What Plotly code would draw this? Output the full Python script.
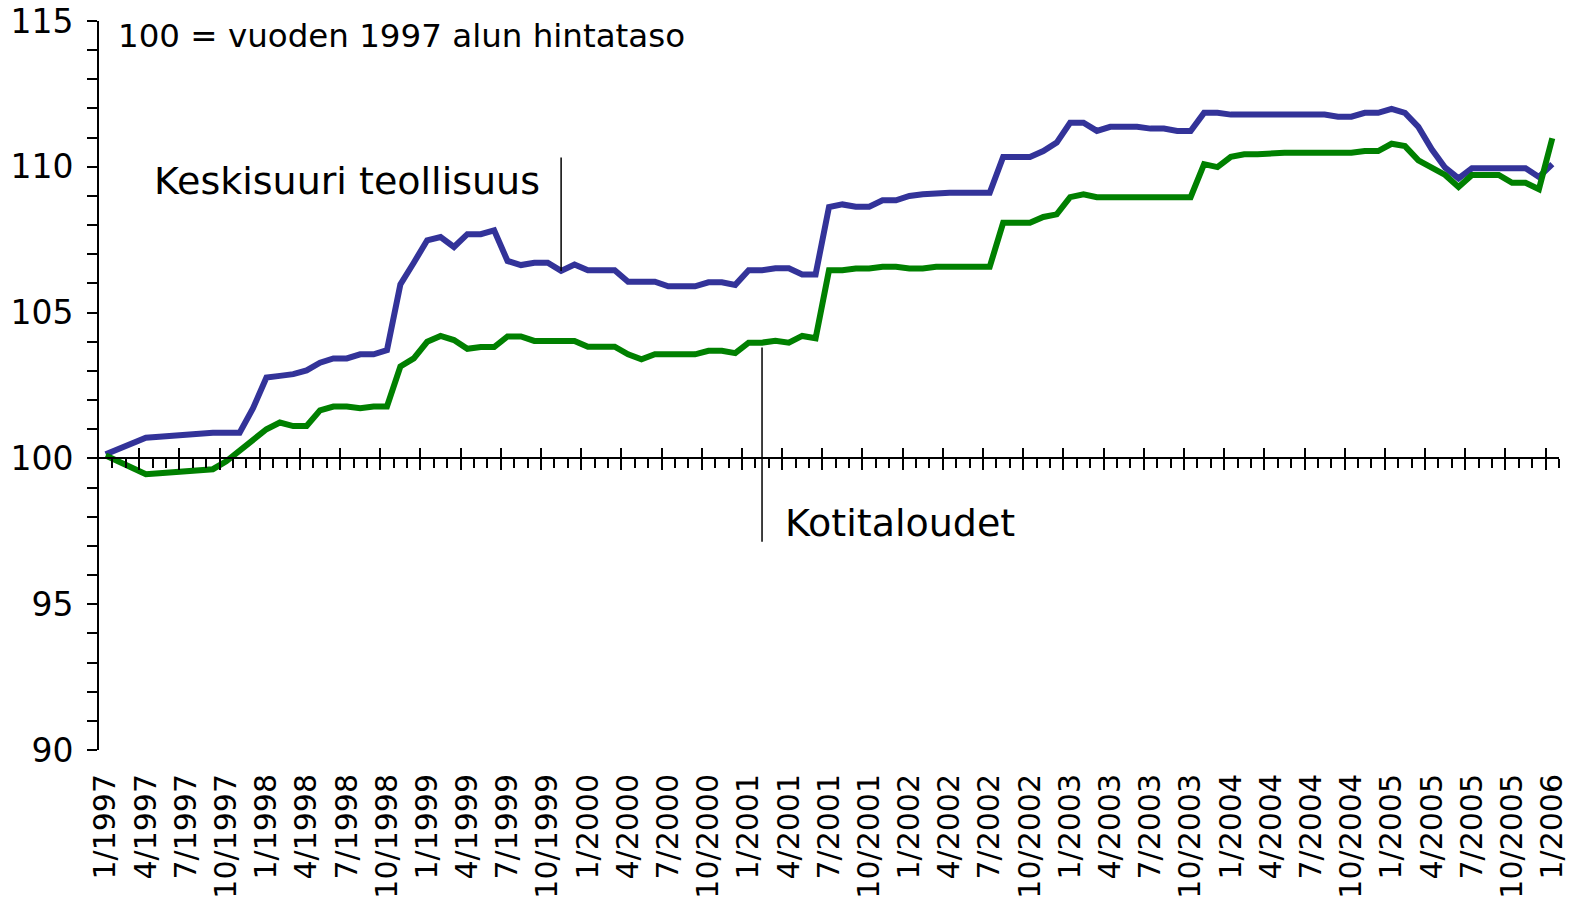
import plotly.graph_objects as go

# Monthly index values, 1/1997 ... 1/2006 (100 = beginning of 1997 price level)
teollisuus = [
    100.14, 100.33, 100.52, 100.71, 100.74, 100.78, 100.81, 100.84, 100.88, 100.88,
    100.88, 101.72, 102.77, 102.83, 102.89, 103.02, 103.28, 103.43, 103.43, 103.57,
    103.57, 103.71, 105.97, 106.71, 107.48, 107.59, 107.25, 107.69, 107.69, 107.82,
    106.77, 106.63, 106.71, 106.71, 106.43, 106.65, 106.45, 106.45, 106.45, 106.06,
    106.06, 106.06, 105.90, 105.90, 105.90, 106.04, 106.04, 105.95, 106.45, 106.45,
    106.52, 106.52, 106.31, 106.31, 108.62, 108.71, 108.63, 108.63, 108.85, 108.85,
    109.00, 109.06, 109.11, 109.11, 109.11, 109.11, 109.11, 110.34, 110.34, 110.34,
    110.54, 110.83, 111.51, 111.51, 111.23, 111.37, 111.37, 111.37, 111.31, 111.31,
    111.23, 111.23, 111.85, 111.85, 111.79, 111.79, 111.79, 111.79, 111.79, 111.79,
    111.79, 111.79, 111.72, 111.72, 111.85, 111.85, 111.99, 111.85, 111.37, 110.60,
    109.97, 109.60, 109.95, 109.95, 109.95, 109.95, 109.95, 109.65, 110.09,
]
kotitaloudet = [
    100.10, 99.88, 99.67, 99.46, 99.49, 99.53, 99.56, 99.60, 99.63, 99.90,
    100.26, 100.62, 101.00, 101.23, 101.11, 101.11, 101.65, 101.78, 101.78, 101.72,
    101.78, 101.78, 103.15, 103.43, 104.00, 104.20, 104.06, 103.76, 103.82, 103.82,
    104.18, 104.18, 104.03, 104.03, 104.03, 104.03, 103.83, 103.83, 103.83, 103.57,
    103.40, 103.57, 103.57, 103.57, 103.57, 103.69, 103.69, 103.61, 103.97, 103.97,
    104.03, 103.97, 104.20, 104.12, 106.45, 106.45, 106.51, 106.51, 106.57, 106.57,
    106.51, 106.51, 106.57, 106.57, 106.57, 106.57, 106.57, 108.08, 108.08, 108.08,
    108.28, 108.37, 108.96, 109.06, 108.96, 108.96, 108.96, 108.96, 108.96, 108.96,
    108.96, 108.96, 110.09, 109.99, 110.34, 110.43, 110.43, 110.48, 110.48, 110.48,
    110.48, 110.48, 110.48, 110.48, 110.54, 110.54, 110.79, 110.71, 110.22, 109.97,
    109.72, 109.31, 109.72, 109.72, 109.72, 109.45, 109.45, 109.23, 110.98,
]
tick_labels = [
    "1/1997", "4/1997", "7/1997", "10/1997",
    "1/1998", "4/1998", "7/1998", "10/1998",
    "1/1999", "4/1999", "7/1999", "10/1999",
    "1/2000", "4/2000", "7/2000", "10/2000",
    "1/2001", "4/2001", "7/2001", "10/2001",
    "1/2002", "4/2002", "7/2002", "10/2002",
    "1/2003", "4/2003", "7/2003", "10/2003",
    "1/2004", "4/2004", "7/2004", "10/2004",
    "1/2005", "4/2005", "7/2005", "10/2005",
    "1/2006",
]
y_ticks = [90, 95, 100, 105, 110, 115]

n = len(teollisuus)
x = list(range(n))
label_pos = list(range(0, n, 3))
boundaries = [i + 0.5 for i in range(-1, n)]
major_b = [b for k, b in enumerate(boundaries) if k % 3 == 0 and k > 0]
minor_b = [b for k, b in enumerate(boundaries) if k % 3 != 0]

FONT = "DejaVu Sans"
BLUE = "#333399"
GREEN = "#008000"
xr = [-0.5, n - 0.5]

fig = go.Figure()
fig.add_trace(go.Scatter(x=x, y=teollisuus, mode="lines", name="Keskisuuri teollisuus",
                         line=dict(color=BLUE, width=6), hoverinfo="skip"))
fig.add_trace(go.Scatter(x=x, y=kotitaloudet, mode="lines", name="Kotitaloudet",
                         line=dict(color=GREEN, width=6), hoverinfo="skip"))
# invisible carriers for the crossing axis at y=100
for ax in ["x2", "x3"]:
    fig.add_trace(go.Scatter(x=x, y=teollisuus, xaxis=ax, yaxis="y", mode="lines",
                             line=dict(width=0), opacity=0, hoverinfo="skip", showlegend=False))

ypos100 = (100 - 90) / (115 - 90)

fig.update_layout(
    width=1576, height=908,
    margin=dict(l=91, r=25, t=13, b=166),
    paper_bgcolor="white", plot_bgcolor="white",
    showlegend=False,
    font=dict(family=FONT, color="black"),
    xaxis=dict(
        range=xr, showline=False, showgrid=False, zeroline=False, automargin=False,
        tickmode="array", tickvals=label_pos, ticktext=tick_labels,
        tickangle=-90, ticks="", tickfont=dict(size=30, family=FONT),
        ticklabelstandoff=17, ticklabeloverflow="allow",
    ),
    xaxis2=dict(
        range=xr, overlaying="x", anchor="free", position=ypos100, automargin=False,
        showline=True, linecolor="black", linewidth=2,
        showgrid=False, zeroline=False, showticklabels=False,
        tickmode="array", tickvals=major_b, ticks="outside", ticklen=11,
        tickwidth=2, tickcolor="black",
        minor=dict(tickmode="array", tickvals=minor_b, ticks="outside",
                   ticklen=9, tickwidth=2, tickcolor="black", showgrid=False),
    ),
    xaxis3=dict(
        range=xr, overlaying="x", anchor="free", position=ypos100, automargin=False,
        showline=False, showgrid=False, zeroline=False, showticklabels=False,
        tickmode="array", tickvals=major_b, ticks="inside", ticklen=10,
        tickwidth=2, tickcolor="black",
    ),
    yaxis=dict(
        range=[90, 115], showline=True, linecolor="black", linewidth=2,
        showgrid=False, zeroline=False, automargin=False,
        tickmode="array", tickvals=y_ticks, ticks="outside", ticklen=10,
        tickwidth=2, tickcolor="black", tickfont=dict(size=33, family=FONT),
        ticklabelstandoff=7, ticklabeloverflow="allow",
        minor=dict(tickmode="linear", tick0=90, dtick=1, ticks="outside",
                   ticklen=10, tickwidth=2, tickcolor="black", showgrid=False),
    ),
)

# leader lines
fig.add_shape(type="line", xref="x", yref="y", x0=34, x1=34, y0=teollisuus[34], y1=110.32,
              line=dict(color="black", width=1.5))
fig.add_shape(type="line", xref="x", yref="y", x0=49, x1=49, y0=103.8, y1=97.14,
              line=dict(color="black", width=1.5))

fig.add_annotation(text="Keskisuuri teollisuus", x=32.6, y=109.51, xref="x", yref="y",
                   xanchor="right", yanchor="middle", showarrow=False,
                   font=dict(size=38, family=FONT, color="black"))
fig.add_annotation(text="Kotitaloudet", x=50.6, y=97.79, xref="x", yref="y",
                   xanchor="left", yanchor="middle", showarrow=False,
                   font=dict(size=38, family=FONT, color="black"))
fig.add_annotation(text="100 = vuoden 1997 alun hintataso", x=0.75, y=114.48, xref="x", yref="y",
                   xanchor="left", yanchor="middle", showarrow=False,
                   font=dict(size=32.5, family=FONT, color="black"))

fig.write_html("out.html")
